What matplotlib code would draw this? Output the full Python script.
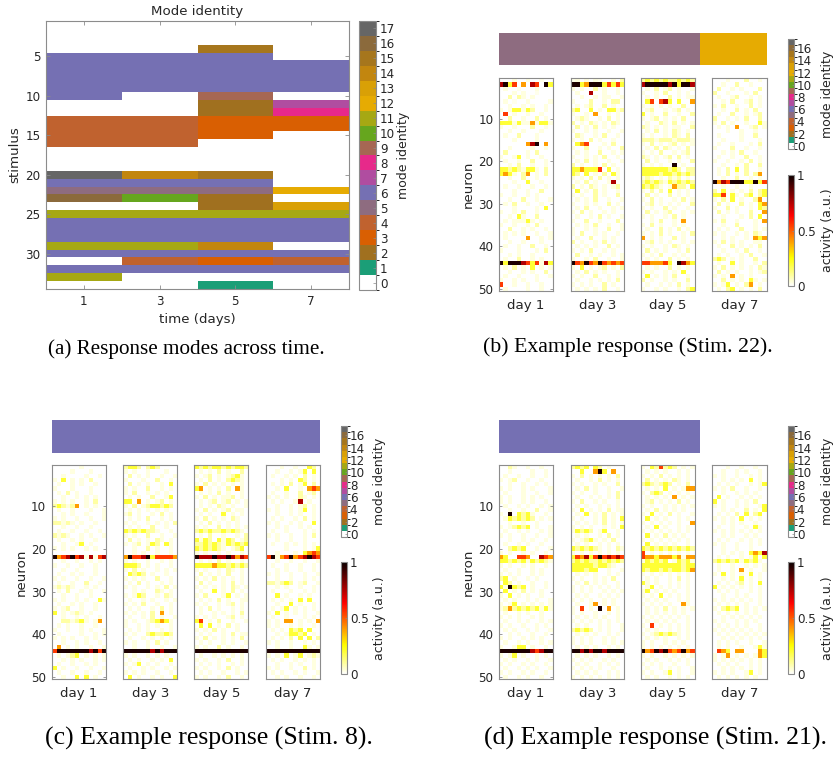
import numpy as np
import matplotlib
matplotlib.use('Agg')
import matplotlib.pyplot as plt
from matplotlib.colors import ListedColormap, BoundaryNorm, Normalize
from matplotlib.cm import ScalarMappable

# ---------------- data ----------------
days = [1, 3, 5, 7]
day_labels = ['day 1', 'day 3', 'day 5', 'day 7']
n_stimuli = 34
n_neurons = 50
n_trials = 12

# mode identity of each stimulus (1..34) on each day (0 = no mode)
mode_day1 = [0, 0, 0, 0, 6, 6, 6, 6, 6, 6, 0, 0, 4, 4, 4, 4, 0, 0, 0, 17, 6, 5, 16, 0, 11, 6, 6, 6, 11, 6, 0, 6, 11, 0]
mode_day3 = [0, 0, 0, 0, 6, 6, 6, 6, 6, 0, 0, 0, 4, 4, 4, 4, 0, 0, 0, 14, 6, 5, 10, 0, 11, 6, 6, 6, 11, 6, 4, 6, 0, 0]
mode_day5 = [0, 0, 0, 15, 6, 6, 6, 6, 6, 9, 2, 2, 3, 3, 3, 0, 0, 0, 0, 15, 6, 5, 2, 2, 11, 6, 6, 6, 14, 6, 3, 6, 0, 1]
mode_day7 = [0, 0, 0, 0, 0, 6, 6, 6, 6, 0, 7, 8, 3, 3, 0, 0, 0, 0, 0, 0, 0, 12, 0, 13, 11, 6, 6, 6, 0, 6, 4, 6, 0, 0]

mode_ticks_a = list(range(18))
mode_ticks_small = [0, 2, 4, 6, 8, 10, 12, 14, 16]
activity_ticks = [0, 0.5, 1]
activity_ticklabels = ['0', '0.5', '1']

# activity code: character -> activity (a.u.)
activity_levels = {' ': 0.0, '-': 0.02, '.': 0.035, ':': 0.09, 'y': 0.2,
                   'o': 0.40, 'r': 0.55, 'd': 0.75, 'k': 0.97}

# 50 neurons x (12 trials per day | day1 | day3 | day5 | day7)
stim22_rows = [
    "   .  .  -  |-. . .-  . :|:y:y:y::y:y:|   .   :  . ",
    "dkyr o dr ky|kkyokkkyryry|dkkkkkdkykkd|  .  :  .   ",
    " .  -   .   |. .  : .  . | . : .: .  .| :  . .   : ",
    "   . .  -   | .  d  .  . |.  . :  . . |:  .   . :  ",
    "  : :. .    |  .  . ..  .| . .  : . ..| .  .:  . . ",
    " . -  .    .|.   :  . :: | yr rdy y  o|  . :  .: . ",
    "  .  . .  . | . .:  : .  |. . . .  :  |. :  .  : . ",
    ". .yy.y:  . |:y  y . yy.:| .:  . .: . |  .  : . :  ",
    " r .  .  .  |.  . o  . . |y .  :  .  :| .  :  . .: ",
    "  :  .  : . | .:.  . : . |. .: . . :  |:  . . :  : ",
    "yyy.y..o.yy.|: . :. . :. | .  :. : . .|. : .  .  y.",
    ".  .   :  . | : . : . .  |:. . . ..  :| . . o  .: .",
    "  .  .   .  |.  . .  .  .| . : . :. . |   .  .  .  ",
    " .  :   .   | :.  . :  . |. .  . :. : | .    .  :  ",
    "   .    .   |. . : .  .  |:::.:::.:::.|  .   .   . ",
    "      odk o | yor   . :  |. : . .: . .| .  .   . : ",
    "  .    .  . |.  :  . .  :| . : :. . : |.   :  .  . ",
    " :    . :   | . .  :  . .|. . :  . .: |  . . :  .  ",
    ".  .y .  .  |.  . . :  . |:. . .: : . | .  .  :  . ",
    " .  .  :  . | . : .  .  .| : .  . .  :|.  .  . : . ",
    "  . :  .  . |: .  . : .  |. . .  k .  |  .  . :  : ",
    "yy:y:.yy. : |yyoyyyr y . |yyyyyy:y: ::| . : y :  . ",
    "yoy. :o . : |y: y . : y. |yyyy:yy:y:y:| . : . : :o ",
    "  .  :  .   |. . : : . . |.:. . :.: . |  .  :  . . ",
    "   .  y  .  | . : .  .d  |:y:y:.y:y:y:|kodrkkkyykyr",
    " .  .  .  . |: . :. . .: |y:y:. .o:: y|  .  .  .   ",
    "   .  .  :  | y . : .  . |. : : y . . |: y . . : :y",
    ".  .  . .   |. .  : .  : | : .  : . . |yyr y. :y :y",
    "  .  :  .  .| . . :  .  .|. : .  . : .|. : y .  :o ",
    " . :  .  .  |.  . .  : . | .: . . .  :| : .  : . yo",
    "   .    . y | . :  .  . .|. .  : .  . |.  : .  . y:",
    ".  . :  .   |. : .  . .  | : . .:  . .| : . .  :  o",
    "  . y.  :   | .  . : .  .|. .  . : .  |  .   . : y ",
    " . ...y. .  |.  :  .   : |  . :  . o  |. :  .   . o",
    ".  .  . :   | . . :  .  .|. : .  . .  |  .  :   .  ",
    "  :  . .  . |.  . .  :  .| .  : . : . | . .  :  . .",
    " . . .  .  .|. :  . .  . |. . : .  . :|. .  . . :. ",
    " .    o  . .| .  :  . .  |o . .  : .  |  . .  . oyo",
    "  .  .   .  |: .  . : .  | .: . .  . .|. : . .  .. ",
    " .  .  :  . | . . .  : . |. .  . :. . | .  : . . : ",
    ".   .   . : |. . :  . .  | : . .  . : |  .  . :  . ",
    "  . .  .    | :  . .  . .|. . :  . .  | . .  . :  .",
    " .  :  . .  |.  . :  .  .| . .  : . . |:y: . .  :  ",
    "kykkkdryr.dy|krokrokroror|rrooory kdoy| .  y .  . :",
    " . : . y . .|. y . .: . :| . .  : . . |. : . . . :.",
    "  .  . .  : | . : . .  . |. .  . . y  | : . .  . .:",
    " .  .   .  .|. .  :  . . | y . . :  . |. . o . .   ",
    ".  . .  .   | .  . . . : |: .  . .  : |  : . . y. .",
    "r  .  .  .  |. . .  : .  | .  . . : . |. .y . :o . ",
    " .    .  .  | . . . :  . |.  . .  . :y| . :y . . : ",
]

stim8_rows = [
    "      .     |:yy: :y:    |y:y:yy:y:yy:|   .  .  y: ",
    "    .   .   |. .  .   .  | . . : .  : |  .  . .y y ",
    "  .    .  . | : . .  .  .|. .: . .:y. | .  . . : . ",
    ". y . . :   |.   .  :  . | . : . :y:. |   . . y: . ",
    " .  . .  .  | : . .  . y |. : . . . . | . . : .y : ",
    ".   .   .   |. .  :  . . |yo . . : o. |  . y  . oro",
    " . : .  .   |. :  . . .  | . . : .  . | .  .  : .: ",
    "  .  . . .  | . .  :  .y |. : . ..: . |. . .  :. . ",
    ". . .  . :  |yy o . .: . | . .: .: . .| . .  .d .  ",
    ":y:.:o . .  |. : .:yy:y: | . . :. .  .|  .  . .: . ",
    " .  .   .  .| . . . . .  |. : . .: .. |. .  . .y . ",
    "  . .  .   .|.: .  . : . | . .  y . . |  .  . .  . ",
    ". .  .  .  .| . . :  . . |. : . . :.  | . .  . : . ",
    "::.:. .  .  |. .  . . . :| . : . . .  |. .  . .  y ",
    "  .  .  .   | . .  :  .  |. .  : . . .|  . .  . .  ",
    " .  .  .  . |y:y:y::.  . |:y:y::y:y:. | .  .   . . ",
    ":.:.  . .  .|. .  :  .  .| . :  .  . :|. .  .  . : ",
    " .  . .  .  | : . . :. . |y.y: y.y: .:|  .  .  .   ",
    "  .  .y .   |. .: .y: y. |::y:y:.y:y:y| .  . . . . ",
    ". . .  . .  |  .  : .  . |y:y:y:. .:y |    .   . .y",
    "            |  . .  .  . |. .  . .  . |  .   . yoro",
    "kordkrd.d.rd|okrrdkyrrrro|kdddkddkdodr|rk.orkordkdr",
    "  .  .  . . |. .  .  . . | . . : .  . |  .  .  .  .",
    ".  .  .  .  |yyy: . .  . |yyyyoyy:y:y:| .  .  .  . ",
    "  .  .   .  |. : .  . . .|. .  . :. . |  . .  .  . ",
    " .  . .  .  | y:y: .  .  | : . . :  . |. .  .  .  .",
    ". .  .  .  .|. . .  :  . |. . : . . . |  .  .  . . ",
    " .  .  :  . | . : .  . . | : .  . : . |::.:y: .:  .",
    ".:.:.  . .  |. .  . . : .|. . . . :. .|  . .  .  . ",
    " . :  . .  .|  . .  :. . | .  y . : . | .   .  . . ",
    "  .  .  .   |. .y:  . :. |. :   .y . .|  y .  . .  ",
    ". .  . .  y.| .  . .  . .| . . : .  ..| . . . y y  ",
    " .  . .  .  |. . :  .  . |. .  . .: . |  .  y .  . ",
    ". .:  .  .  | . .  . : . | . : .  . . | . .y . . . ",
    "y . .:. .   |. . . : o . | .  . . . : |. y . . .  .",
    "  .  . .  . | .  . : .  .|. . .  .: . | .  .   . . ",
    "  ::.:y. .o |. .  .:yoy. |yr . :  .  .|. . oo . . o",
    " . .  .  .  |.  . . .  . | y y . : .  |. .  . .  . ",
    ".  .  . .  .| . . .  . . |. . : .  .  | . . y:y y  ",
    " .    .  . .|. .  :y::y: | . .  . : ..|  . .yy:y . ",
    ". . .  . .  | .  . . . . |. : . . . : | . . : y y :",
    "  .  . .  . |. .  . : .  | . .  . .  .|. .  .  . . ",
    " o . .  .  .|  .  .  .  .|. .  : .  . |  .  .  y. .",
    "rkkkkkkkdkrk|kkkkkkdkdkkk|kkkkkkkkkkkk|kkkkkkkkkkkk",
    " . .:y . . .|. .  . . .  | .  . . . . |. . y .y .:.",
    "  . . .  . .| . .  . . y |. .  . :  . | . .  . . . ",
    " .  .  . .  |. .y . .  . | . . .  . . |  .  . .  . ",
    "y .  .  .  .| .  . .  . .|. .  . : .  |. .  .  : . ",
    " .  .  .  . |. . .  .  . | . .  .  . .| . .  . .  .",
    "  .  y y .  | y .  . .  y|. .  . :  . |  . .  .  . ",
]

stim21_rows = [
    "  :.  .  .  |:y:y y: .   |. y:r:y: . .|   .  .  .  ",
    "  .    .  . |  y  oky o  | . . .  . . |  .  . .  . ",
    " .  .  .  . |. : . . . : |. . : . . . |. .  .  . . ",
    ". .:  .  .  | .  . : . . | : . . :. . |  . . . y . ",
    "  .  .  . . |. .  . .  : |:y:.:y: . : | . . .  . .y",
    ". .  . .   .| . : .  .  .| . . y . .oo|. . :  .  . ",
    " .   .  .  .|. .  .  . : |. :y: . . . |  .  . . .  ",
    ". .  . . .  | .  . . . : | . . . o . .| y .  . . . ",
    ". .  . .  . |. :  . .  . | .: . . : . |y .  . . :  ",
    " .  . .  . .| . .  . . . |. .  . . . .|. .  . .  .y",
    "  .  .  :  .|. y . . : ..| . : . . .  |  . .  : . y",
    ". k y:y.  . | . y . : . .|. y . : .  .| . . : y :y ",
    " .y:y:y: . .|. .  . : . y| y . .  . . |. . . y . . ",
    "  .  .  .   | . . . : . .|. . . . .  o|  . . .  .  ",
    ". .:y:y .  .|. . .  . . y| . y .  . . | .  .  . y. ",
    " .  . .  . .|.y:y: .y  . |. . . . . . |. . . . . . ",
    ". .  .  .  .| . .  . : . | y . : . .  |  . .  . .  ",
    "  .  . .  . |. .:y. . :  |. . . . . . | . .  . . . ",
    " .  . .  .  | . .  . . . | y . . .  . |. .  .  . . ",
    "  :y:y  .  .|y:y:y:. . :.|y:y:y:y:y:y:|  .  .  .   ",
    ". .  . .  . |. . . . . . |r . . . . . |  . . . yoyd",
    "oy  rro  dro|yrodyrkrdrdr|rooyoooyo.oo| . .  . .y y",
    "yy:y:y.y:y:.|:y:y::y:y:y:|.y:y:y .y:y.|:y:y:y.y:y. ",
    ". .  . .  . |yyyyy:yy:.  |yyyyyyyyy:yy| .  .  . . .",
    " .  .  . .  |yyy:yy  .  .|y:yy:y:yy:yo| .  . o .  .",
    ". . .  . .  | . . .  . . |. . . . . . |. y . . y . ",
    ":y .  . .   |. .  . . :  | . .  . : . |  . . y . . ",
    " y: .  .  . | . : . .  . |y. .  . . . | . . .: . y ",
    "y.ky:y .  . |. . . . . . | .y . . . . |y . . . . . ",
    " y . : . .  |. . .  . . .|.y . . .  . | . . .  . . ",
    ". y . .  .  | . .  . . . |. . y . . . |  .  . .  . ",
    " . .  . .  .|. . .  . .  | . . .  . . |. . . . . . ",
    ". .y . . . .| .  .o . .  |. . . .  o. | . . . .  . ",
    ".:o:y:y:y.y.|. r . k o . | . . : . . .|. :y:y . . .",
    " .  . .  .  |. .  .  . . | . . . . .  | . . . . .  ",
    ". . .  . .  | . . . .  . |. . . . . . |  . . . . . ",
    " .  . .  . .|. . . . . . | . . . .  . |. .  . . .  ",
    ". .  .  . . | . .  . .  .|. r . . . . | . . . .  . ",
    " . .  . .  .|:y:y: . .  .| . .  . . . |. . . . . . ",
    "  . .  .  . | . . .  . . |. .:y:y:. . | . . . . . .",
    ". .  . . .  |. . .  . .  | . . .  . . |  . . . . . ",
    " .  . .  . .|. . .  . . .|. .  . . .  | . . .  .  .",
    ".  .yy .  . | . . .  . . |. . . . . . | . .  .  .y.",
    "kkkkkkkdrdkk|kkdkdkkdkkkk|korkdkrorkor| roy oo   oy",
    ". .y .  . . | . . .  . . |. .  . . . .|. .o . . .oy",
    " . .  . .  .|. . .  . .  | . .  . . . |. . . . . . ",
    ". .  . .  . | . .  . . . |. . .  .  . | . . .  . . ",
    " .  . . .  .|. . . .  .  | .  . . .  .|  . . . . . ",
    ". .  . .  . | . . .  . . |. .  .y .  .|. . .  .y . ",
    " .  . .  .  |. . . . . . | . .  . . . | . . . . .  ",
]

# ---------------- style ----------------
W, H = 835, 758
MODE_COLORS = ['#ffffff', '#1b9e77', '#a0701f', '#d95f02', '#c0622f', '#8e6c80',
               '#7570b3', '#b04da0', '#e7298a', '#a66753', '#66a61e', '#a6a813',
               '#e6ab02', '#d9a006', '#c2860f', '#a6761d', '#8b6a3c', '#666666']
mode_cmap = ListedColormap(MODE_COLORS)
mode_norm = BoundaryNorm(np.arange(-0.5, 18.5, 1.0), 18)
act_cmap = plt.get_cmap('hot_r')
act_norm = Normalize(0, 1)
EDGE = '#8c8c8c'
TXT = '#262626'
TICK_FS = 8.6
LAB_FS = 9.6

fig = plt.figure(figsize=(W / 100, H / 100), dpi=100)


def rect(x0, y0, x1, y1):
    return [x0 / W, 1 - y1 / H, (x1 - x0) / W, (y1 - y0) / H]


def ftext(x, y, s, **kw):
    return fig.text(x / W, 1 - y / H, s, **kw)


def style_spines(ax):
    for sp in ax.spines.values():
        sp.set_color(EDGE)
        sp.set_linewidth(0.8)


def decode(rows):
    mat = np.zeros((n_neurons, 4 * n_trials))
    for i, row in enumerate(rows):
        parts = row.split('|')
        for d in range(4):
            p = (parts[d] if d < len(parts) else '').ljust(n_trials)[:n_trials]
            for t, ch in enumerate(p):
                mat[i, d * n_trials + t] = activity_levels.get(ch, 0.0)
    return mat


modes = np.array([mode_day1, mode_day3, mode_day5, mode_day7]).T  # stimuli x days

# ---------------- panel (a) ----------------
ax = fig.add_axes(rect(46, 21, 349, 289))
xe = np.arange(0, 9, 2)
ye = np.arange(0.5, n_stimuli + 1.0, 1.0)
ax.pcolormesh(xe, ye, modes, cmap=mode_cmap, norm=mode_norm)
ax.set_xlim(0, 8)
ax.set_ylim(n_stimuli + 0.5, 0.5)
ax.set_xticks(days)
ax.set_yticks([5, 10, 15, 20, 25, 30])
ax.tick_params(direction='in', length=3, width=0.6, color=EDGE, labelcolor=TXT,
               labelsize=TICK_FS, top=True, right=True, pad=4)
style_spines(ax)
ftext(197.5, 12, 'Mode identity', ha='center', va='center', fontsize=LAB_FS, color=TXT)
ftext(197.5, 319, 'time (days)', ha='center', va='center', fontsize=LAB_FS, color=TXT)
ftext(15, 155, 'stimulus', ha='center', va='center', rotation=90, fontsize=LAB_FS, color=TXT)

cax = fig.add_axes(rect(359, 21, 376, 290))
cb = fig.colorbar(ScalarMappable(norm=mode_norm, cmap=mode_cmap), cax=cax, ticks=mode_ticks_a)
cb.outline.set_edgecolor(EDGE)
cb.outline.set_linewidth(0.8)
cax.tick_params(direction='in', length=2, width=0.5, color=EDGE, labelcolor=TXT,
                labelsize=TICK_FS, pad=3)
ftext(403, 155, 'mode identity', ha='center', va='center', rotation=90,
      fontsize=LAB_FS - 0.6, color=TXT)


# ---------------- panels (b)(c)(d) ----------------
def response_panel(stim, rows, day_x, y0, y1, bar_y, cbx, cb_mode_y, cb_act_y,
                   ylab_x, lab_x):
    mat = decode(rows)
    # mode bar
    bax = fig.add_axes(rect(day_x[0][0], bar_y[0], day_x[-1][1], bar_y[1]))
    bax.pcolormesh(np.arange(5), [0, 1], modes[stim - 1][None, :], cmap=mode_cmap, norm=mode_norm)
    bax.set_xlim(0, 4)
    bax.set_ylim(0, 1)
    bax.set_xticks([])
    bax.set_yticks([])
    for sp in bax.spines.values():
        sp.set_visible(False)
    # day heatmaps
    for d in range(4):
        x0, x1 = day_x[d]
        dax = fig.add_axes(rect(x0, y0, x1, y1))
        dax.imshow(mat[:, d * n_trials:(d + 1) * n_trials], cmap=act_cmap, norm=act_norm,
                   aspect='auto', interpolation='nearest',
                   extent=(0.5, n_trials + 0.5, n_neurons + 0.5, 0.5))
        dax.set_xticks([])
        style_spines(dax)
        if d == 0:
            dax.set_yticks([10, 20, 30, 40, 50])
            dax.tick_params(axis='y', direction='in', length=2.5, width=0.6, color=EDGE,
                            labelcolor=TXT, labelsize=TICK_FS, right=True, pad=4)
        else:
            dax.set_yticks([])
        ftext((x0 + x1) / 2, y1 + 14, day_labels[d], ha='center', va='center',
              fontsize=LAB_FS, color=TXT)
    ftext(ylab_x, (y0 + y1) / 2, 'neuron', ha='center', va='center', rotation=90,
          fontsize=LAB_FS, color=TXT)
    # colorbars
    c1 = fig.add_axes(rect(cbx[0], cb_mode_y[0], cbx[1], cb_mode_y[1]))
    cb1 = fig.colorbar(ScalarMappable(norm=mode_norm, cmap=mode_cmap), cax=c1, ticks=mode_ticks_small)
    c2 = fig.add_axes(rect(cbx[0], cb_act_y[0], cbx[1], cb_act_y[1]))
    cb2 = fig.colorbar(ScalarMappable(norm=act_norm, cmap=act_cmap), cax=c2, ticks=activity_ticks)
    cb2.set_ticklabels(activity_ticklabels)
    for cbx_, cb_ in ((c1, cb1), (c2, cb2)):
        cb_.outline.set_edgecolor(EDGE)
        cb_.outline.set_linewidth(0.8)
        cbx_.tick_params(direction='in', length=1.5, width=0.5, color=EDGE, labelcolor=TXT,
                         labelsize=TICK_FS, pad=2)
    ftext(lab_x, sum(cb_mode_y) / 2, 'mode identity', ha='center', va='center', rotation=90,
          fontsize=LAB_FS - 0.6, color=TXT)
    ftext(lab_x, sum(cb_act_y) / 2, 'activity (a.u.)', ha='center', va='center', rotation=90,
          fontsize=LAB_FS - 0.6, color=TXT)


right_days = [(499, 552.5), (570.7, 624), (641, 695), (712, 767)]
left_days = [(51.7, 106), (123.3, 177.3), (194.3, 248.3), (265.7, 320)]

response_panel(22, stim22_rows, right_days, 78.3, 291, (32.7, 65), (788, 794),
               (39, 149), (175, 286), 468, 827)
response_panel(8, stim8_rows, left_days, 465.3, 679.3, (420, 452.7), (341, 347),
               (426, 537), (562.3, 674), 21.7, 379)
response_panel(21, stim21_rows, right_days, 465.3, 679.3, (420, 452.7), (788, 794),
               (426, 537), (562.3, 674), 468, 827)

# ---------------- captions ----------------
renderer = fig.canvas.get_renderer()


def caption(xc, yc, s, target_w):
    t = ftext(xc, yc, s, ha='center', va='center', fontsize=15,
              family='Liberation Serif', color='black')
    w = t.get_window_extent(renderer=renderer).width
    t.set_fontsize(15 * target_w / w)
    return t


caption(186.5, 349, '(a) Response modes across time.', 277)
caption(628, 347, '(b) Example response (Stim. 22).', 290)
caption(209, 738, '(c) Example response (Stim. 8).', 328)
caption(656, 738, '(d) Example response (Stim. 21).', 344)

fig.savefig('out.png', dpi=100)
